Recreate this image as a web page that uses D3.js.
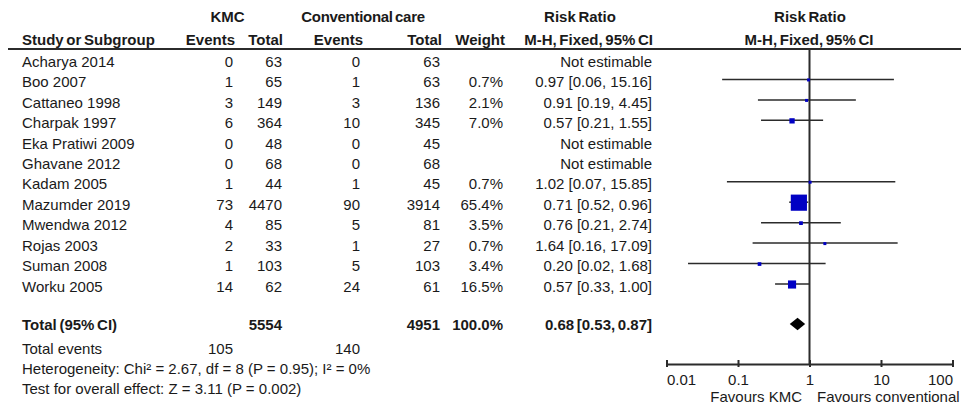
<!DOCTYPE html>
<html>
<head>
<meta charset="utf-8">
<script src="https://cdn.jsdelivr.net/npm/d3@7"></script>
<style>
  body { margin: 0; background: #fff; }
  svg { display: block; font-family: "Liberation Sans", Arial, sans-serif; }
</style>
</head>
<body>
<svg id="chart" width="961" height="408"></svg>
<script>
// ---- data ----
const studies = ["Acharya 2014","Boo 2007","Cattaneo 1998","Charpak 1997","Eka Pratiwi 2009","Ghavane 2012","Kadam 2005","Mazumder 2019","Mwendwa 2012","Rojas 2003","Suman 2008","Worku 2005"];
const kmcEvents  = [0, 1, 3, 6, 0, 0, 1, 73, 4, 2, 1, 14];
const kmcTotal   = [63, 65, 149, 364, 48, 68, 44, 4470, 85, 33, 103, 62];
const convEvents = [0, 1, 3, 10, 0, 0, 1, 90, 5, 1, 5, 24];
const convTotal  = [63, 63, 136, 345, 45, 68, 45, 3914, 81, 27, 103, 61];
const weights    = [null, 0.7, 2.1, 7.0, null, null, 0.7, 65.4, 3.5, 0.7, 3.4, 16.5];
const rr         = [null, 0.97, 0.91, 0.57, null, null, 1.02, 0.71, 0.76, 1.64, 0.20, 0.57];
const ciLow      = [null, 0.06, 0.19, 0.21, null, null, 0.07, 0.52, 0.21, 0.16, 0.02, 0.33];
const ciHigh     = [null, 15.16, 4.45, 1.55, null, null, 15.85, 0.96, 2.74, 17.09, 1.68, 1.00];
const pooled     = {rr: 0.68, lo: 0.53, hi: 0.87};
const totals     = {kmcTotal: 5554, convTotal: 4951, weight: "100.0%", kmcEvents: 105, convEvents: 140};
const tickValues = [0.01, 0.1, 1, 10, 100];
const tickLabels = ["0.01", "0.1", "1", "10", "100"];
const footnotes  = ["Heterogeneity: Chi\u00B2 = 2.67, df = 8 (P = 0.95); I\u00B2 = 0%", "Test for overall effect: Z = 3.11 (P = 0.002)"];

// ---- layout ----
const svg = d3.select("#chart");
const FS = 15;
const textColor = "#1a1a1a";
const lineColor = "#2b2b2b";
const blue = "#0000c4";

const rowY = d3.scaleLinear().domain([0, 11]).range([61.5, 286.5]);
const totalY = 325;
const x = d3.scaleLog().domain([0.01, 100]).range([666.5, 952.5]);

const col = {study: 22, kmcE: 233, kmcT: 282, convE: 360, convT: 440, weight: 503, rr: 652};

function txt(xp, yp, s, anchor, bold) {
  const t = svg.append("text")
    .attr("x", xp).attr("y", yp).attr("dy", "0.35em")
    .attr("text-anchor", anchor || "start")
    .attr("font-size", FS)
    .attr("font-weight", bold ? "bold" : "normal")
    .attr("fill", textColor)
    .text(s);
  if (bold) t.attr("word-spacing", -1.5);
  return t;
}

// headers
txt(227.5, 17, "KMC", "middle", true);
txt(363, 17, "Conventional care", "middle", true).attr("letter-spacing", -0.3);
txt(580, 17, "Risk Ratio", "middle", true);
txt(810, 17, "Risk Ratio", "middle", true);
txt(col.study, 40, "Study or Subgroup", "start", true);
txt(col.kmcE + 2, 40, "Events", "end", true);
txt(col.kmcT + 1, 40, "Total", "end", true);
txt(col.convE + 3, 40, "Events", "end", true);
txt(col.convT + 2, 40, "Total", "end", true);
txt(col.weight + 2, 40, "Weight", "end", true);
txt(col.rr + 1, 40, "M-H, Fixed, 95% CI", "end", true);
txt(809, 40, "M-H, Fixed, 95% CI", "middle", true);

// header rule
svg.append("line").attr("x1", 8).attr("x2", 961).attr("y1", 49).attr("y2", 49)
  .attr("stroke", lineColor).attr("stroke-width", 2);

// study rows
studies.forEach((s, i) => {
  const y = rowY(i);
  txt(col.study, y, s);
  txt(col.kmcE, y, kmcEvents[i], "end");
  txt(col.kmcT, y, kmcTotal[i], "end");
  txt(col.convE, y, convEvents[i], "end");
  txt(col.convT, y, convTotal[i], "end");
  if (weights[i] != null) txt(col.weight, y, weights[i].toFixed(1) + "%", "end");
  if (rr[i] != null) {
    txt(col.rr, y, `${rr[i].toFixed(2)} [${ciLow[i].toFixed(2)}, ${ciHigh[i].toFixed(2)}]`, "end");
  } else {
    txt(col.rr, y, "Not estimable", "end");
  }
});

// total rows
txt(col.study, totalY, "Total (95% CI)", "start", true);
txt(col.kmcT, totalY, totals.kmcTotal, "end", true);
txt(col.convT, totalY, totals.convTotal, "end", true);
txt(col.weight, totalY, totals.weight, "end", true);
txt(col.rr, totalY, `${pooled.rr.toFixed(2)} [${pooled.lo.toFixed(2)}, ${pooled.hi.toFixed(2)}]`, "end", true);
txt(col.study, 348.5, "Total events");
txt(col.kmcE, 348.5, totals.kmcEvents, "end");
txt(col.convE, 348.5, totals.convEvents, "end");
txt(col.study, 368.5, footnotes[0]);
txt(col.study, 388.5, footnotes[1]);

// forest plot
const axisY = 364;
// reference line at 1
svg.append("line").attr("x1", x(1)).attr("x2", x(1)).attr("y1", 49).attr("y2", axisY)
  .attr("stroke", lineColor).attr("stroke-width", 2);

const plotted = studies.map((s, i) => ({i, rr: rr[i], lo: ciLow[i], hi: ciHigh[i], w: weights[i]}))
  .filter(d => d.rr != null);

svg.append("g").selectAll("line").data(plotted).join("line")
  .attr("x1", d => x(Math.max(d.lo, 0.01))).attr("x2", d => x(Math.min(d.hi, 100)))
  .attr("y1", d => rowY(d.i) - 2.5).attr("y2", d => rowY(d.i) - 2.5)
  .attr("stroke", lineColor).attr("stroke-width", 1.5);

const side = w => Math.max(3, 2 * Math.sqrt(w));
svg.append("g").selectAll("rect").data(plotted).join("rect")
  .attr("x", d => x(d.rr) - side(d.w) / 2)
  .attr("y", d => rowY(d.i) - 2 - side(d.w) / 2)
  .attr("width", d => side(d.w)).attr("height", d => side(d.w))
  .attr("fill", blue);

// pooled diamond
const dh = 6.2, dcy = 324;
svg.append("path")
  .attr("d", `M${x(pooled.lo)},${dcy} L${x(pooled.rr)},${dcy - dh} L${x(pooled.hi)},${dcy} L${x(pooled.rr)},${dcy + dh} Z`)
  .attr("fill", "#000");

// axis
const axis = d3.axisBottom(x).tickValues(tickValues)
  .tickFormat((d, k) => tickLabels[k]).tickSizeInner(3).tickSizeOuter(0);
const ag = svg.append("g").attr("transform", `translate(0,${axisY})`).call(axis);
ag.select(".domain").attr("stroke", lineColor).attr("stroke-width", 2);
ag.selectAll(".tick line").attr("y1", -4).attr("y2", 3).attr("stroke", lineColor).attr("stroke-width", 2);
ag.selectAll(".tick text").attr("y", 16).attr("dy", "0.35em")
  .attr("font-size", FS).attr("font-family", "Liberation Sans, Arial, sans-serif").attr("fill", textColor)
  .attr("text-anchor", (d, k) => k === 0 ? "start" : (k === tickValues.length - 1 ? "end" : "middle"));

txt(802, 397, "Favours KMC", "end");
txt(817, 397, "Favours conventional", "start");
</script>
</body>
</html>
